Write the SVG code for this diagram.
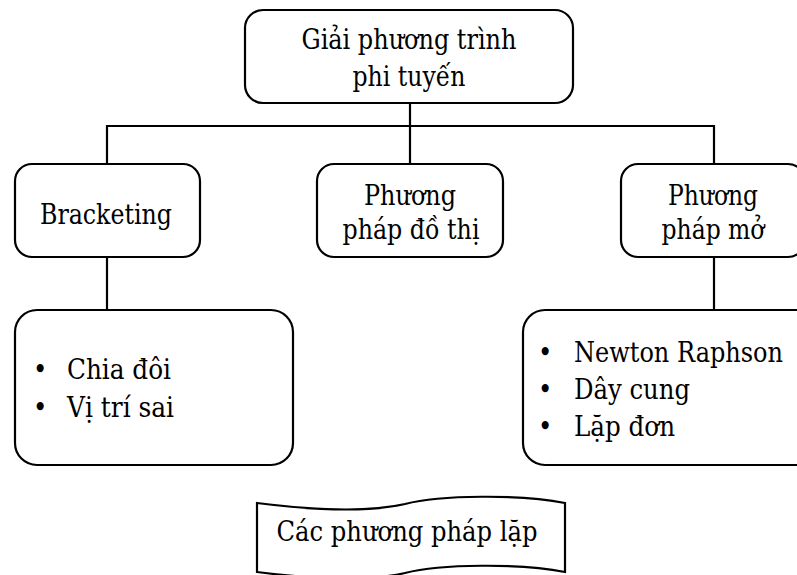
<svg xmlns="http://www.w3.org/2000/svg" width="797" height="575" viewBox="0 0 797 575">
<style>
.box{fill:#fff;stroke:#000;stroke-width:2.2}
.ln{fill:none;stroke:#000;stroke-width:2.2}
text{font-family:'DejaVu Serif Condensed','DejaVu Serif','Liberation Serif',serif;font-size:27px;fill:#000}
.c{text-anchor:middle}
.b{font-size:27px}
</style>
<rect width="797" height="575" fill="#fff"/>
<g id="connectors">
<path class="ln" d="M410,103 V126 M107,163 V126 H714 V163 M410,126 V163 M107,257 V310 M714,257 V310"/>
</g>
<g id="root">
<rect class="box" x="245" y="10" width="328" height="93" rx="18"/>
<text class="c" x="409" y="49" textLength="215" lengthAdjust="spacingAndGlyphs">Giải phương trình</text>
<text class="c" x="409" y="86" textLength="113" lengthAdjust="spacingAndGlyphs">phi tuyến</text>
</g>
<g id="bracketing">
<rect class="box" x="15" y="164" width="185" height="93" rx="17"/>
<text class="c" x="106" y="224" textLength="132" lengthAdjust="spacingAndGlyphs">Bracketing</text>
</g>
<g id="dothi">
<rect class="box" x="317" y="164" width="186" height="93" rx="17"/>
<text class="c" x="410" y="205" textLength="92" lengthAdjust="spacingAndGlyphs">Phương</text>
<text class="c" x="411" y="239" textLength="137" lengthAdjust="spacingAndGlyphs">pháp đồ thị</text>
</g>
<g id="mo">
<rect class="box" x="621" y="164" width="184" height="93" rx="17"/>
<text class="c" x="713" y="205" textLength="90" lengthAdjust="spacingAndGlyphs">Phương</text>
<text class="c" x="713" y="239" textLength="103" lengthAdjust="spacingAndGlyphs">pháp mở</text>
</g>
<g id="list-left">
<rect class="box" x="15" y="310" width="278" height="155" rx="22"/>
<text class="b" x="33" y="379">•</text><text x="67" y="379" textLength="104" lengthAdjust="spacingAndGlyphs">Chia đôi</text>
<text class="b" x="33" y="417">•</text><text x="67" y="417" textLength="107" lengthAdjust="spacingAndGlyphs">Vị trí sai</text>
</g>
<g id="list-right">
<rect class="box" x="523" y="310" width="300" height="155" rx="22"/>
<text class="b" x="538" y="362">•</text><text x="574" y="362" textLength="209" lengthAdjust="spacingAndGlyphs">Newton Raphson</text>
<text class="b" x="538" y="399">•</text><text x="574" y="399" textLength="116" lengthAdjust="spacingAndGlyphs">Dây cung</text>
<text class="b" x="538" y="436">•</text><text x="574" y="436" textLength="101" lengthAdjust="spacingAndGlyphs">Lặp đơn</text>
</g>
<g id="banner">
<path class="box" d="M257,503 C320,511 370,512 405,504 C440,495 520,494 565,503 V572 C520,563 440,564 405,573 C370,581 320,580 257,572 Z"/>
<text class="c" x="407" y="541" textLength="261" lengthAdjust="spacingAndGlyphs">Các phương pháp lặp</text>
</g>
</svg>
